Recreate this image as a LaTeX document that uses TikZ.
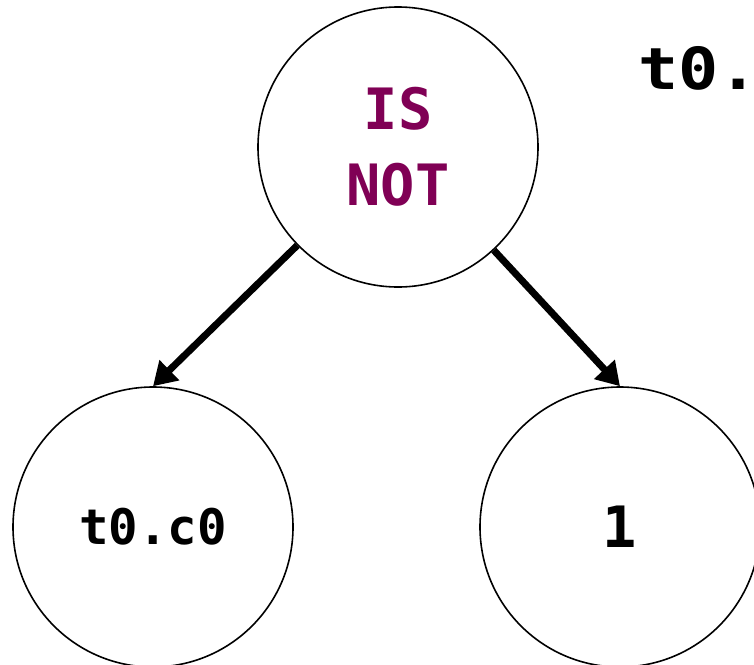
\documentclass[tikz,border=0pt]{standalone}
\usepackage{fontspec}
\setmonofont{DejaVu Sans Mono}
\newfontfamily\titlemono[FakeStretch=1.15]{DejaVu Sans Mono}
\usetikzlibrary{arrows.meta}
\definecolor{oppurple}{RGB}{128,0,85}
\begin{document}
\begin{tikzpicture}[x=1pt,y=-1pt,
  treenode/.style={circle,draw=black,line width=1.6pt,minimum size=280pt,inner sep=0pt,align=center},
  edge/.style={line width=7pt,-{Triangle[length=23pt,width=27pt]}},
  bigtxt/.style={font=\ttfamily\bfseries\fontsize{57}{76}\selectfont},
  midtxt/.style={font=\ttfamily\bfseries\fontsize{49}{56}\selectfont},
  titletxt/.style={font=\titlemono\bfseries\fontsize{58}{70}\selectfont}]
\useasboundingbox (0,0) rectangle (754,664);
\fill[white] (0,0) rectangle (754,664);
\node[treenode,bigtxt,text=oppurple] (op) at (398,147) {IS\\NOT};
\node[treenode,midtxt] (lhs) at (153,527) {t0.c0};
\node[treenode,bigtxt] (rhs) at (620,527) {1};
\node[titletxt,anchor=base west,inner sep=0pt] (title) at (638,89) {t0.};
\draw[edge] (op) -- (lhs.north);
\draw[edge] (op) -- (rhs.north);
\end{tikzpicture}
\end{document}
